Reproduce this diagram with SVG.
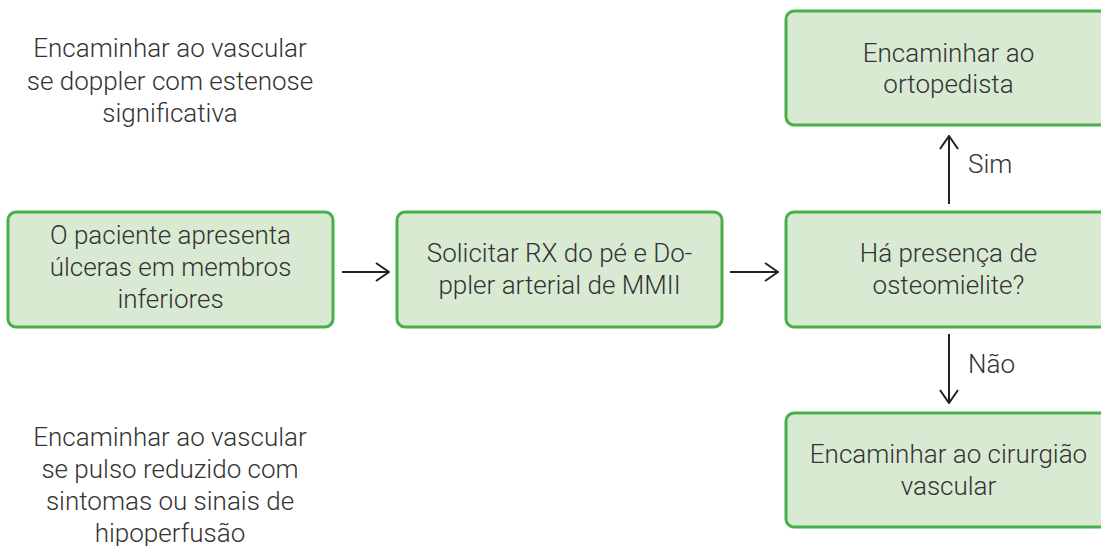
<svg xmlns="http://www.w3.org/2000/svg" width="1101" height="546" viewBox="0 0 1101 546">
<defs>
<style>
.box{fill:#d9ead3;stroke:#47b04b;stroke-width:3}
.t{font-family:Roboto,"Liberation Sans",sans-serif;font-weight:300;font-size:26px;fill:#333;text-anchor:middle}
.l{font-family:Roboto,"Liberation Sans",sans-serif;font-weight:300;font-size:26px;fill:#333}
.c{stroke:#222;stroke-width:2;fill:none}
</style>
<marker id="ah" viewBox="0 0 15 20" refX="14" refY="10" markerWidth="15" markerHeight="20" markerUnits="userSpaceOnUse" orient="auto">
<path d="M1,1 L14,10 L1,19" fill="none" stroke="#222" stroke-width="2"/>
</marker>
</defs>
<rect width="1101" height="546" fill="#fff"/>
<g id="note-top">
<text class="t" x="170" y="57">Encaminhar ao vascular</text>
<text class="t" x="170" y="90">se doppler com estenose</text>
<text class="t" x="170" y="122">significativa</text>
</g>
<g id="note-bottom">
<text class="t" x="170" y="446">Encaminhar ao vascular</text>
<text class="t" x="170" y="478">se pulso reduzido com</text>
<text class="t" x="170" y="510">sintomas ou sinais de</text>
<text class="t" x="170" y="542">hipoperfusão</text>
</g>
<g id="n1">
<rect class="box" x="8" y="212" width="325" height="115" rx="8"/>
<text class="t" x="170.5" y="244">O paciente apresenta</text>
<text class="t" x="170.5" y="276">úlceras em membros</text>
<text class="t" x="170.5" y="308">inferiores</text>
</g>
<g id="n2">
<rect class="box" x="397" y="212" width="325" height="115" rx="8"/>
<text class="t" x="559.5" y="262">Solicitar RX do pé e Do-</text>
<text class="t" x="559.5" y="294">ppler arterial de MMII</text>
</g>
<g id="n3">
<rect class="box" x="786" y="212" width="325" height="115" rx="8"/>
<text class="t" x="948.5" y="262">Há presença de</text>
<text class="t" x="948.5" y="294">osteomielite?</text>
</g>
<g id="n4">
<rect class="box" x="786" y="11" width="325" height="114" rx="8"/>
<text class="t" x="948.5" y="62">Encaminhar ao</text>
<text class="t" x="948.5" y="93">ortopedista</text>
</g>
<g id="n5">
<rect class="box" x="786" y="413" width="325" height="114" rx="8"/>
<text class="t" x="948.5" y="463">Encaminhar ao cirurgião</text>
<text class="t" x="948.5" y="495">vascular</text>
</g>
<g id="connectors">
<line class="c" x1="342" y1="272" x2="389" y2="272" marker-end="url(#ah)"/>
<line class="c" x1="730" y1="272" x2="778" y2="272" marker-end="url(#ah)"/>
<line class="c" x1="949" y1="204" x2="949" y2="136" marker-end="url(#ah)"/>
<line class="c" x1="949" y1="334" x2="949" y2="403" marker-end="url(#ah)"/>
<text class="l" x="968" y="173">Sim</text>
<text class="l" x="968" y="373">Não</text>
</g>
</svg>
